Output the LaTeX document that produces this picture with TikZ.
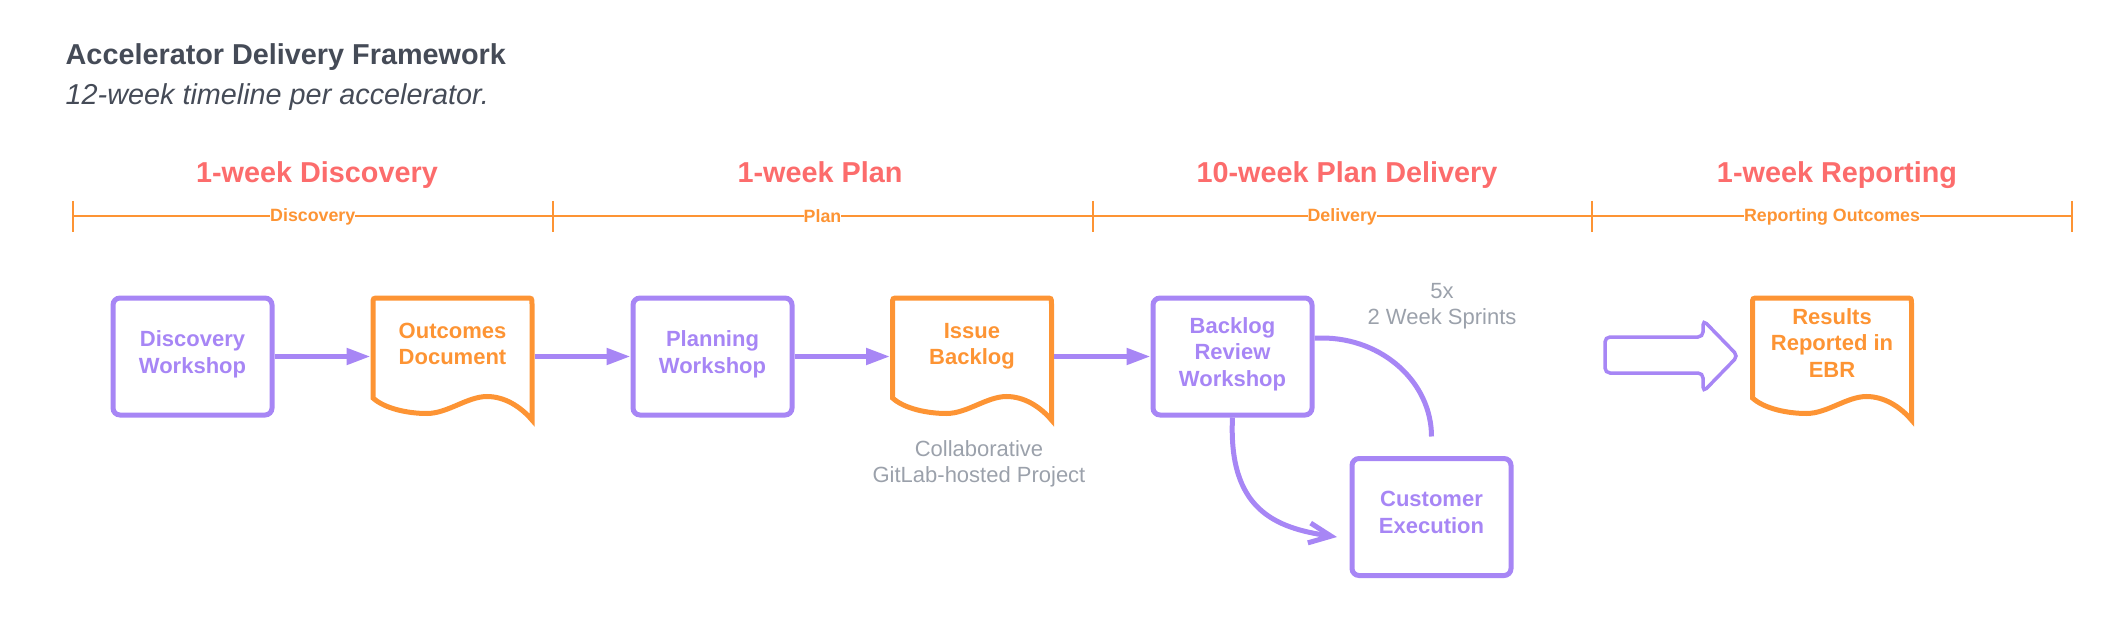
\documentclass[tikz,border=0pt]{standalone}
\usepackage{fontspec}
\setmainfont{Liberation Sans}
\usetikzlibrary{arrows.meta,calc}
\definecolor{purp}{HTML}{A786F5}
\definecolor{orng}{HTML}{FD9434}
\definecolor{coral}{HTML}{FC6C6C}
\definecolor{titlec}{HTML}{454B57}
\definecolor{grayc}{HTML}{9BA1AB}
\tikzset{
  wbox/.style={draw=purp, line width=5pt, rounded corners=7pt, minimum width=159pt, minimum height=117pt,
    inner sep=0pt, outer sep=2.5pt, align=center, text=purp, text depth=9pt,
    font=\fontsize{22}{26.5}\selectfont\bfseries},
  docbox/.style={minimum width=159pt, minimum height=117pt, inner sep=0pt, outer sep=2.5pt},
  doctext/.style={align=center, text=orng, font=\fontsize{22}{26.5}\selectfont\bfseries, inner sep=0pt},
  flow/.style={draw=purp, line width=5pt, -{Triangle[length=24pt,width=16pt]}},
  loopline/.style={draw=purp, line width=5pt},
  heading/.style={text=coral, font=\fontsize{28.8}{34}\selectfont\bfseries, anchor=base, inner sep=0pt},
  tline/.style={draw=orng, line width=2pt},
  tlabel/.style={fill=white, text=orng, font=\fontsize{17.8}{20}\selectfont\bfseries, inner xsep=0pt, inner ysep=1pt},
  note/.style={text=grayc, font=\fontsize{22}{26.5}\selectfont, align=center, inner sep=0pt},
  docshape/.pic={
    \draw[draw=orng, line width=5pt, line join=miter]
      (-79.5,41.5) -- (-79.5,-52.5) .. controls (-79.5,-58.5) .. (-73.5,-58.5)
      -- (73.5,-58.5) .. controls (79.5,-58.5) .. (79.5,-52.5)
      -- (79.5,63.5) .. controls (68,50) and (52,40) .. (34.5,40)
      .. controls (15,40) and (-5,57) .. (-25.5,57)
      .. controls (-45,57) and (-68,52) .. (-79.5,41.5) -- cycle;
  }
}
\begin{document}
\begin{tikzpicture}[x=1pt,y=-1pt]
\useasboundingbox (0,0) rectangle (2126,639);

% title
\node[anchor=base west, text=titlec, font=\fontsize{28.8}{34}\selectfont\bfseries, inner sep=0pt] (title) at (65.5,65) {Accelerator Delivery Framework};
\node[anchor=base west, text=titlec, font=\fontsize{28.8}{34}\selectfont\itshape, inner sep=0pt] (subtitle) at (65.5,105) {12-week timeline per accelerator.};

% timeline
\coordinate (t0) at (73,216.5);
\coordinate (t1) at (552.5,216.5);
\coordinate (t2) at (1092.5,216.5);
\coordinate (t3) at (1592,216.5);
\coordinate (t4) at (2072,216.5);
\draw[tline] (t0) -- (t4);
\foreach \t in {t0,t1,t2,t3,t4} \draw[tline] ($(\t)+(0,-15.5)$) -- ($(\t)+(0,15.5)$);
\node[tlabel] (l1) at ($(t0)!0.5!(t1)$) {Discovery};
\node[tlabel] (l2) at ($(t1)!0.5!(t2)$) {Plan};
\node[tlabel] (l3) at ($(t2)!0.5!(t3)$) {Delivery};
\node[tlabel] (l4) at ($(t3)!0.5!(t4)$) {Reporting Outcomes};

% headings
\node[heading] (h1) at (317,183) {1-week Discovery};
\node[heading] (h2) at (820,183) {1-week Plan};
\node[heading] (h3) at (1347,183) {10-week Plan Delivery};
\node[heading] (h4) at (1837,183) {1-week Reporting};

% boxes
\node[wbox] (dw) at (192.5,356.5) {Discovery\\Workshop};
\node[docbox] (od) at (452.5,356.5) {};
\pic at (od.center) {docshape};
\node[doctext] (odt) at (452.5,344) {Outcomes\\Document};
\node[wbox] (pw) at (712.5,356.5) {Planning\\Workshop};
\node[docbox] (ib) at (972,356.5) {};
\pic at (ib.center) {docshape};
\node[doctext] (ibt) at (972,346.3) {Issue\\Backlog};
\node[wbox] (brw) at (1232.5,356.5) {Backlog\\Review\\Workshop};
\node[wbox] (ce) at (1431.5,517) {Customer\\Execution};
\node[docbox] (rr) at (1832,356.5) {};
\pic at (rr.center) {docshape};
\node[doctext] (rrt) at (1832,343) {Results\\Reported in\\EBR};

% notes
\node[note] (sprints) at (1442,306) {5x\\2 Week Sprints};
\node[note] (collab) at (979,464) {Collaborative\\GitLab-hosted Project};

% connectors
\draw[flow] (dw) -- (od);
\draw[flow] (od) -- (pw);
\draw[flow] (pw) -- (ib);
\draw[flow] (ib) -- (brw);

\coordinate (loopend) at ($(ce.north)+(0,-19.5)$);
\draw[loopline] ($(brw.east)+(0,-18.5)$) -- ++(7.5,0) .. controls +(60.7,0) and +(0,-54) .. (loopend);
\coordinate (ceend) at ($(ce.west)+(-12.5,20)$);
\draw[loopline, -{Straight Barb[length=22pt,width=20pt]}] (brw.south) .. controls +(-4.5,92) and +(-62,-9) .. (ceend);

% block arrow
\draw[draw=purp, line width=3.5pt, rounded corners=5pt]
  (1605,337) -- (1703,337) -- (1703,320) -- (1738,356) -- (1703,392) -- (1703,373) -- (1605,373) -- cycle;
\end{tikzpicture}
\end{document}
